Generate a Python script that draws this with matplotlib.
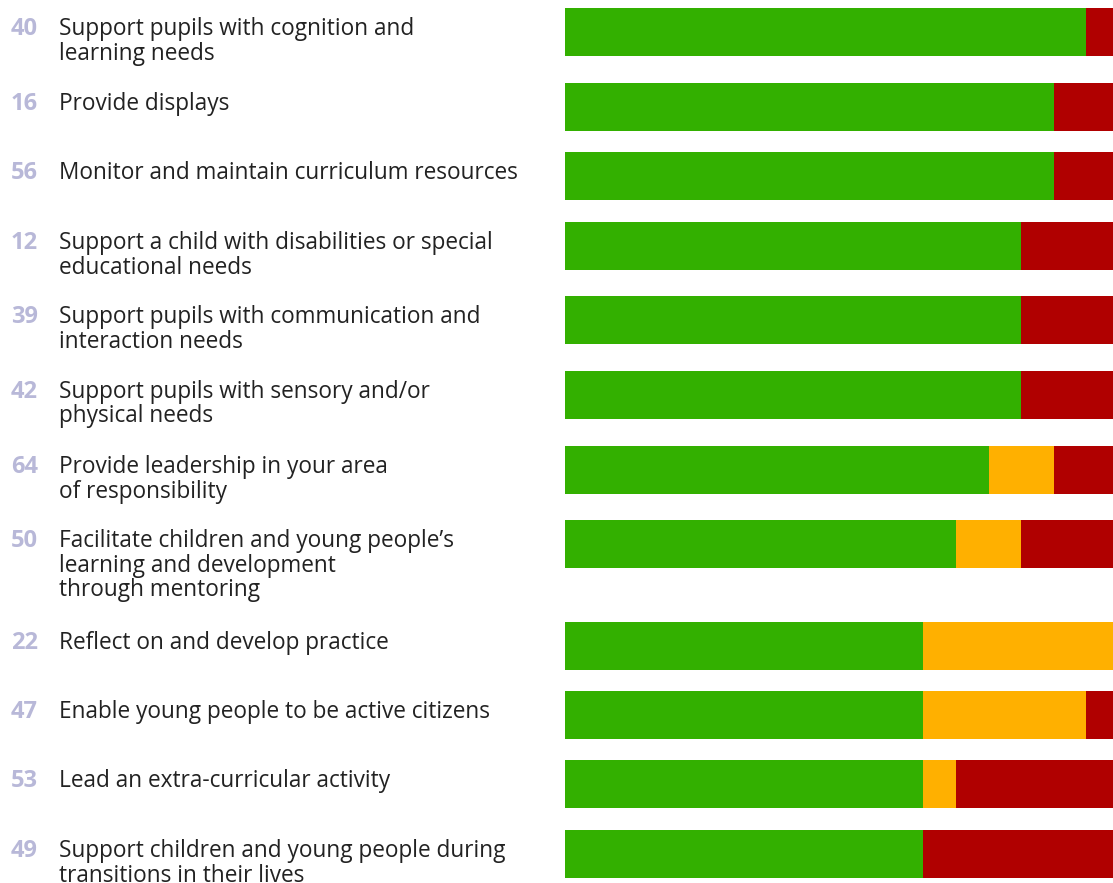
import matplotlib
matplotlib.use("Agg")
import matplotlib.pyplot as plt
from matplotlib.transforms import blended_transform_factory

# data
codes = ["40", "16", "56", "12", "39", "42", "64", "50", "22", "47", "53", "49"]
labels = [
    "Support pupils with cognition and\nlearning needs",
    "Provide displays",
    "Monitor and maintain curriculum resources",
    "Support a child with disabilities or special\neducational needs",
    "Support pupils with communication and\ninteraction needs",
    "Support pupils with sensory and/or\nphysical needs",
    "Provide leadership in your area\nof responsibility",
    "Facilitate children and young people\u2019s\nlearning and development\nthrough mentoring",
    "Reflect on and develop practice",
    "Enable young people to be active citizens",
    "Lead an extra-curricular activity",
    "Support children and young people during\ntransitions in their lives",
]
green = [95.1, 89.2, 89.2, 83.2, 83.2, 83.2, 77.4, 71.4, 65.3, 65.3, 65.3, 65.3]
amber = [0, 0, 0, 0, 0, 0, 11.9, 11.9, 34.7, 29.8, 6.0, 0]
red = [4.9, 10.8, 10.8, 16.8, 16.8, 16.8, 10.7, 16.7, 0, 4.9, 28.7, 34.7]

# layout (pixel rows, top of each bar)
W, H = 1113, 883
bar_tops = [8, 83, 152, 222, 296, 371, 446, 520, 622, 691, 760, 830]
bar_h = 48

GREEN, AMBER, RED = "#33b000", "#ffb000", "#b00000"

fig = plt.figure(figsize=(W / 100, H / 100), dpi=100)
ax = fig.add_axes([565 / W, 0, 548 / W, 1])
ax.set_xlim(0, 100)
ax.set_ylim(H, 0)
ax.axis("off")

centers = [t + bar_h / 2 for t in bar_tops]
ax.barh(centers, green, height=bar_h, color=GREEN, linewidth=0)
ax.barh(centers, amber, left=green, height=bar_h, color=AMBER, linewidth=0)
ax.barh(centers, red, left=[g + a for g, a in zip(green, amber)], height=bar_h,
        color=RED, linewidth=0)

tr = blended_transform_factory(fig.transFigure, ax.transData)
font = "Open Sans"
for code, lab, top in zip(codes, labels, bar_tops):
    base = top + 27
    ax.text(38 / W, base, code, transform=tr, ha="right", va="baseline",
            fontsize=17, fontweight="bold", color="#b8b8d8", family=font)
    for i, line in enumerate(lab.split("\n")):
        ax.text(59 / W, base + i * 24.5, line, transform=tr, ha="left", va="baseline",
                fontsize=16.3, color="#222222", family=font)

fig.savefig("out.png", dpi=100)
